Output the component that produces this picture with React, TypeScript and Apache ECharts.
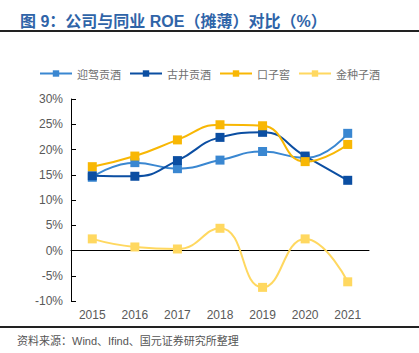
import React, { useEffect, useRef } from "react";
import * as echarts from "echarts";

const years = ["2015", "2016", "2017", "2018", "2019", "2020", "2021"];
const yingjia = [14.5, 17.4, 16.2, 17.9, 19.6, 18.3, 23.2];
const gujing = [14.8, 14.7, 17.8, 22.4, 23.4, 18.7, 13.9];
const kouzijiao = [16.6, 18.7, 21.9, 24.9, 24.7, 17.6, 21.0];
const jinzhongzi = [2.3, 0.7, 0.3, 4.4, -7.3, 2.3, -6.2];
const seriesNames = ["迎驾贡酒", "古井贡酒", "口子窖", "金种子酒"];
const colors = ["#3a87d1", "#0b4ea2", "#f8b704", "#ffd860"];

export default function App() {
  const ref = useRef<HTMLDivElement>(null);
  useEffect(() => {
    const chart = echarts.init(ref.current!, null, { renderer: "svg" });
    const dataSets = [yingjia, gujing, kouzijiao, jinzhongzi];
    chart.setOption({
      animation: false,
      backgroundColor: "#ffffff",
      title: {
        text: "图 9：公司与同业 ROE（摊薄）对比（%）",
        left: 15,
        top: 8,
        textStyle: {
          color: "#2f64a8",
          fontSize: 16,
          fontWeight: "bold",
          fontFamily: "Liberation Sans, Noto Sans CJK SC, sans-serif",
        },
      },
      graphic: [
        { type: "rect", shape: { x: 0, y: 30, width: 419, height: 2 }, style: { fill: "#222" } },
        { type: "rect", shape: { x: 0, y: 326, width: 419, height: 2 }, style: { fill: "#222" } },
        {
          type: "text",
          x: 17,
          y: 341,
          style: {
            text: "资料来源：Wind、Ifind、国元证券研究所整理",
            fill: "#555",
            fontSize: 11,
            fontFamily: "Liberation Sans, Noto Sans CJK SC, sans-serif",
            verticalAlign: "middle",
          },
        },
      ],
      legend: {
        top: 63,
        left: "center",
        itemWidth: 32,
        itemHeight: 8,
        itemGap: 8,
        textStyle: { color: "#707070", fontSize: 11, fontFamily: "Noto Sans CJK SC, sans-serif" },
        data: seriesNames,
      },
      grid: { left: 71, right: 50, top: 99, bottom: 52, containLabel: false },
      xAxis: {
        type: "category",
        data: years,
        boundaryGap: true,
        axisLine: { onZero: true, lineStyle: { color: "#000", width: 1 } },
        axisTick: { inside: true, lineStyle: { color: "#000" } },
        axisLabel: { color: "#595959", fontSize: 12, margin: 8, fontFamily: "Liberation Sans, sans-serif" },
        splitLine: { show: false },
      },
      yAxis: {
        type: "value",
        min: -10,
        max: 30,
        interval: 5,
        axisLine: { show: true, lineStyle: { color: "#000", width: 1 } },
        axisTick: { show: true, inside: true, lineStyle: { color: "#000" } },
        axisLabel: { color: "#595959", fontSize: 12, margin: 8, formatter: "{value}%", fontFamily: "Liberation Sans, sans-serif" },
        splitLine: { show: false },
      },
      series: seriesNames.map((name, i) => ({
        name,
        type: "line",
        smooth: true,
        data: dataSets[i],
        symbol: "rect",
        symbolSize: 9,
        lineStyle: { width: 2, color: colors[i] },
        itemStyle: { color: colors[i] },
      })),
    });
    return () => chart.dispose();
  }, []);
  return <div ref={ref} style={{ width: 419, height: 353, position: "absolute", left: 0, top: 0 }} />;
}
